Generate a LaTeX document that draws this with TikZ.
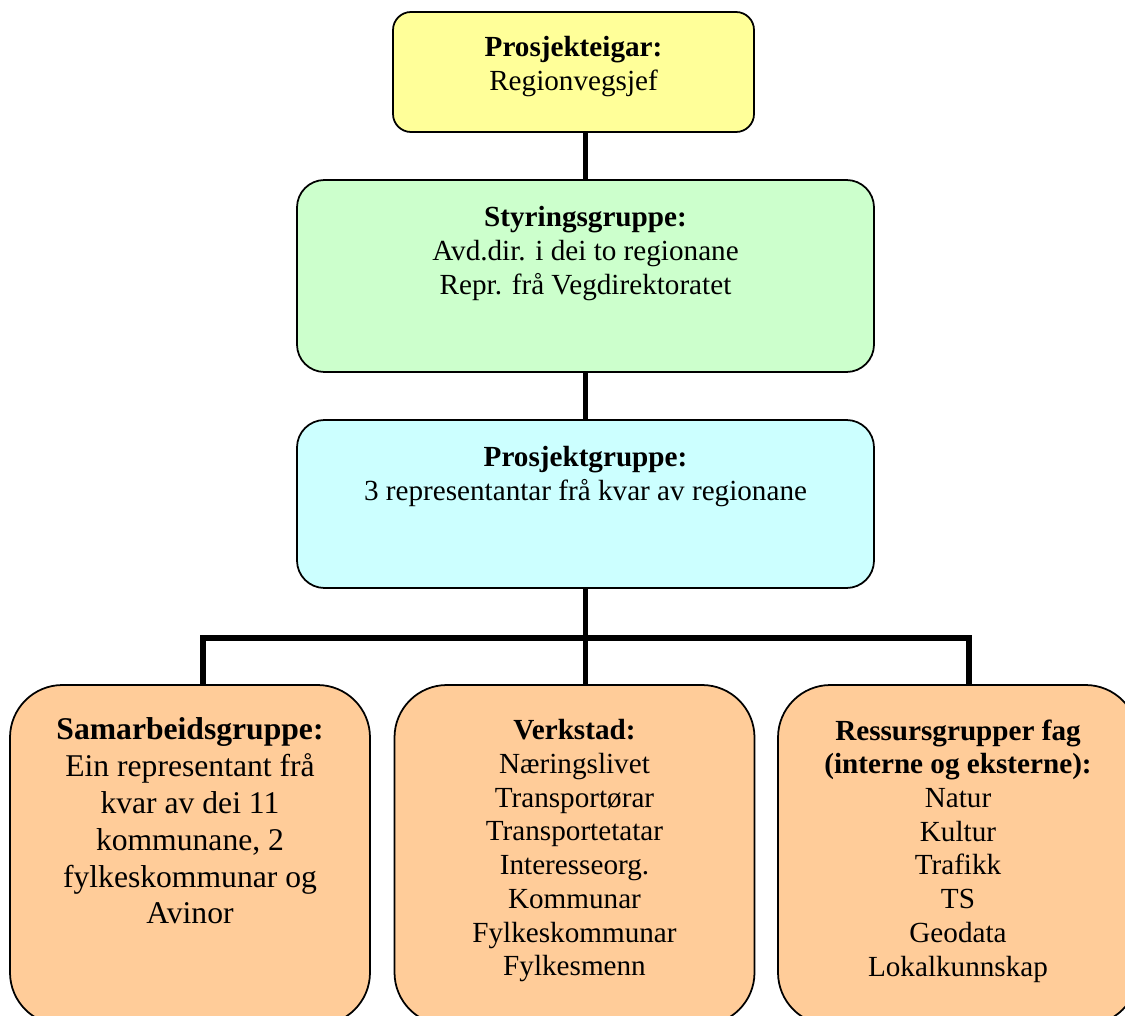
\documentclass[tikz,border=0pt]{standalone}
\usepackage{fontspec}
\setmainfont{Liberation Serif}
\usetikzlibrary{positioning,calc}
\definecolor{eigarfill}{HTML}{FFFF99}
\definecolor{styringfill}{HTML}{CCFFCC}
\definecolor{prosjektfill}{HTML}{CCFFFF}
\definecolor{gruppefill}{HTML}{FFCC99}
\newcommand{\lowfont}{\fontsize{18}{21}\selectfont}

\begin{document}
\begin{tikzpicture}[font=\fontsize{16.6}{19.2}\selectfont]
\tikzset{%
  orgbox/.style = {%
    draw,
    line width = 1pt,
    minimum width = 11.54cm,
    rounded corners = .55cm},
  lowbox/.style = {%
    orgbox,
    fill = gruppefill,
    minimum width = 7.2cm,
    minimum height = 6.8cm,
    rounded corners = 1.05cm},
  boxtext/.style = {%
    align = center,
    inner sep = 0pt},
  link/.style = {%
    line width = 3.2pt,
    line join = miter}
}
  \clip (0,0) rectangle (22.5,-20.3);

  \node[orgbox, fill=eigarfill, minimum width=7.22cm, minimum height=2.4cm,
    rounded corners=.36cm] (eigar) at (11.47,-1.44) {};
  \node[orgbox, fill=styringfill, minimum height=3.84cm] (styring) at (11.71,-5.52) {};
  \node[orgbox, fill=prosjektfill, minimum height=3.36cm] (prosjekt) at (11.71,-10.08) {};

  \node[lowbox] (samarbeid) at (3.8,-17.1) {};
  \node[lowbox] (verkstad) at (11.49,-17.1) {};
  \node[lowbox] (ressurs) at (19.16,-17.1) {};

  % connectors
  \coordinate (bar) at ($(prosjekt.south)+(0,-.98)$);
  \draw[link] (styring.north) -- (styring.north |- eigar.south);
  \draw[link] (styring.south) -- (prosjekt.north);
  \draw[link] (prosjekt.south) -- (bar);
  \draw[link] ([xshift=.26cm]samarbeid.north) |- (bar) -| ([xshift=.22cm]ressurs.north);
  \draw[link] (bar) -- (bar |- verkstad.north);

  % texts
  \node[boxtext, below=.5cm of eigar.north] (eigartext)
    {\textbf{Prosjekteigar:}\\Regionvegsjef};
  \node[boxtext, below=.54cm of styring.north] (styringtext)
    {\textbf{Styringsgruppe:}\\Avd.dir. i dei to regionane\\Repr. frå Vegdirektoratet};
  \node[boxtext, below=.54cm of prosjekt.north] (prosjekttext)
    {\textbf{Prosjektgruppe:}\\3 representantar frå kvar av regionane};
  \node[boxtext, font=\lowfont, below=.66cm of samarbeid.north] (samarbeidtext)
    {\textbf{Samarbeidsgruppe:}\\Ein representant frå\\kvar av dei 11\\kommunane, 2\\fylkeskommunar og\\Avinor};
  \node[boxtext, below=.7cm of verkstad.north] (verkstadtext)
    {\textbf{Verkstad:}\\Næringslivet\\Transportørar\\Transportetatar\\Interesseorg.\\Kommunar\\Fylkeskommunar\\Fylkesmenn};
  \node[boxtext, below=.7cm of ressurs.north] (ressurstext)
    {\textbf{Ressursgrupper fag}\\\textbf{(interne og eksterne):}\\Natur\\Kultur\\Trafikk\\TS\\Geodata\\Lokalkunnskap};
\end{tikzpicture}
\end{document}
